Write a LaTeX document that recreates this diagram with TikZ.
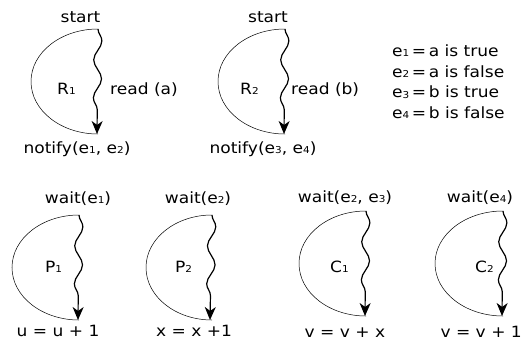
\documentclass[tikz,border=0pt]{standalone}
\usepackage{fontspec}
\setmainfont[FakeStretch=1.1]{DejaVu Sans}
\usetikzlibrary{decorations.pathmorphing,arrows.meta}
\newcommand\sbs[1]{\raisebox{-0.1ex}{\fontsize{9.5}{10}\selectfont #1}}
\begin{document}
\begin{tikzpicture}[x=1pt,y=1pt,
  lbl/.style={inner sep=0pt,anchor=base,font=\fontsize{15.5}{17}\selectfont},
  lblw/.style={lbl,anchor=base west},
  half/.style={draw=black,line width=0.5pt},
  wave/.style={line width=1.2pt,
    decoration={snake,amplitude=4pt,segment length=38pt,post length=12pt},
    decorate,-{Stealth[length=13pt,width=11pt,inset=4pt]}}]
\useasboundingbox (0,0) rectangle (524,-340);
% ---------- R1 ----------
\coordinate (r1t) at (98,-29);
\coordinate (r1b) at (97,-134);
\draw[half] (r1t) arc[start angle=90,end angle=270,x radius=67,y radius=52.5];
\draw[wave] (r1t) -- (r1b);
\node[lbl] (r1s) at (80.5,-22) {start};
\node[lblw] (r1n) at (57,-94) {R\sbs{1}};
\node[lblw] (r1r) at (110,-94) {read (a)};
\node[lbl] (r1o) at (77,-153) {notify(e\sbs{1}, e\sbs{2})};
% ---------- R2 ----------
\coordinate (r2t) at (285,-29);
\coordinate (r2b) at (284,-134);
\draw[half] (r2t) arc[start angle=90,end angle=270,x radius=67,y radius=52.5];
\draw[wave] (r2t) -- (r2b);
\node[lbl] (r2s) at (268,-22) {start};
\node[lblw] (r2n) at (240,-94) {R\sbs{2}};
\node[lblw] (r2r) at (291,-94) {read (b)};
\node[lbl] (r2o) at (263,-153) {notify(e\sbs{3}, e\sbs{4})};
% ---------- legend ----------
\node[lblw] (l1) at (392,-56) {e\sbs{1}\,=\,a is true};
\node[lblw] (l2) at (392,-77) {e\sbs{2}\,=\,a is false};
\node[lblw] (l3) at (392,-97.5) {e\sbs{3}\,=\,b is true};
\node[lblw] (l4) at (392,-118) {e\sbs{4}\,=\,b is false};
% ---------- P1 ----------
\coordinate (p1t) at (79,-215);
\coordinate (p1b) at (78,-320);
\draw[half] (p1t) arc[start angle=90,end angle=270,x radius=67,y radius=52.5];
\draw[wave] (p1t) -- (p1b);
\node[lbl] (p1w) at (78,-203) {wait(e\sbs{1})};
\node[lblw] (p1n) at (45,-272) {P\sbs{1}};
\node[lbl] (p1o) at (58,-336) {u = u + 1};
% ---------- P2 ----------
\coordinate (p2t) at (212,-215);
\coordinate (p2b) at (210,-320);
\draw[half] (p2t) arc[start angle=90,end angle=270,x radius=66,y radius=52.5];
\draw[wave] (p2t) -- (p2b);
\node[lbl] (p2w) at (198,-203) {wait(e\sbs{2})};
\node[lblw] (p2n) at (175,-272) {P\sbs{2}};
\node[lbl] (p2o) at (194,-336) {x = x +1};
% ---------- C1 ----------
\coordinate (c1t) at (366,-211);
\coordinate (c1b) at (365,-316);
\draw[half] (c1t) arc[start angle=90,end angle=270,x radius=67,y radius=52.5];
\draw[wave] (c1t) -- (c1b);
\node[lbl] (c1w) at (345,-202) {wait(e\sbs{2}, e\sbs{3})};
\node[lblw] (c1n) at (330,-272) {C\sbs{1}};
\node[lbl] (c1o) at (345,-337) {v = v + x};
% ---------- C2 ----------
\coordinate (c2t) at (503,-211);
\coordinate (c2b) at (502,-316);
\draw[half] (c2t) arc[start angle=90,end angle=270,x radius=68,y radius=52.5];
\draw[wave] (c2t) -- (c2b);
\node[lbl] (c2w) at (480,-202) {wait(e\sbs{4})};
\node[lblw] (c2n) at (475,-272) {C\sbs{2}};
\node[lbl,anchor=base east] (c2o) at (522,-337) {v = v + 1};
\end{tikzpicture}
\end{document}
